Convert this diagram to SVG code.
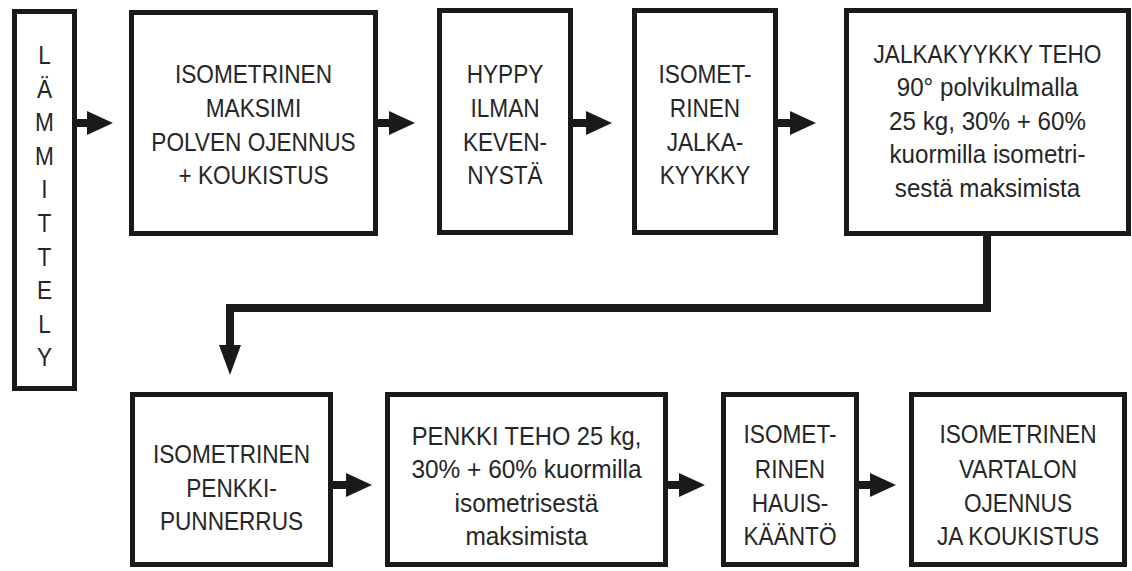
<svg xmlns="http://www.w3.org/2000/svg" width="1132" height="571" viewBox="0 0 1132 571">
<style>
.box{fill:#fff;stroke:#1a1a1a;stroke-width:5}
.t{font-family:"Liberation Sans",Arial,sans-serif;font-size:26px;fill:#262626;text-anchor:middle}
.c{fill:none;stroke:#1a1a1a;stroke-width:8}
</style>
<defs>
<marker id="ah" markerUnits="userSpaceOnUse" markerWidth="26" markerHeight="24" viewBox="0 0 26 24" refX="0" refY="12" orient="auto" overflow="visible">
<path d="M0,0 L26,12 L0,24 Z" fill="#1a1a1a"/>
</marker>
<marker id="ad" markerUnits="userSpaceOnUse" markerWidth="30" markerHeight="22" viewBox="0 0 30 22" refX="0" refY="11" orient="auto" overflow="visible">
<path d="M0,0 L30,11 L0,22 Z" fill="#1a1a1a"/>
</marker>
</defs>
<rect width="1132" height="571" fill="#fff"/>
<g id="connectors">
<line class="c" x1="77" y1="123" x2="87" y2="123" marker-end="url(#ah)"/>
<line class="c" x1="378" y1="123" x2="389" y2="123" marker-end="url(#ah)"/>
<line class="c" x1="573" y1="123" x2="586" y2="123" marker-end="url(#ah)"/>
<line class="c" x1="778" y1="123" x2="790" y2="123" marker-end="url(#ah)"/>
<polyline class="c" stroke-width="7" points="987,236 987,308 230,308 230,345" marker-end="url(#ad)"/>
<line class="c" x1="333" y1="485" x2="346" y2="485" marker-end="url(#ah)"/>
<line class="c" x1="668" y1="485" x2="679" y2="485" marker-end="url(#ah)"/>
<line class="c" x1="859" y1="485" x2="870" y2="485" marker-end="url(#ah)"/>
</g>
<g id="lammittely">
<rect class="box" x="14.5" y="11.5" width="60" height="377"/>
<text class="t" transform="translate(44.5,0) scale(0.87,1)"><tspan x="0" y="64">L</tspan><tspan x="0" y="97.6">Ä</tspan><tspan x="0" y="131.2">M</tspan><tspan x="0" y="164.8">M</tspan><tspan x="0" y="198.4">I</tspan><tspan x="0" y="232">T</tspan><tspan x="0" y="265.6">T</tspan><tspan x="0" y="299.2">E</tspan><tspan x="0" y="332.8">L</tspan><tspan x="0" y="366.4">Y</tspan></text>
</g>
<g id="n1">
<rect class="box" x="131.5" y="12.5" width="244" height="221"/>
<text class="t" transform="translate(253.5,0) scale(0.87,1)"><tspan x="0" y="83">ISOMETRINEN</tspan><tspan x="0" y="117">MAKSIMI</tspan><tspan x="0" y="151">POLVEN OJENNUS</tspan><tspan x="0" y="184">+ KOUKISTUS</tspan></text>
</g>
<g id="n2">
<rect class="box" x="439.5" y="10.5" width="131" height="222"/>
<text class="t" transform="translate(505,0) scale(0.87,1)"><tspan x="0" y="83">HYPPY</tspan><tspan x="0" y="117">ILMAN</tspan><tspan x="0" y="151">KEVEN-</tspan><tspan x="0" y="184">NYSTÄ</tspan></text>
</g>
<g id="n3">
<rect class="box" x="634.5" y="10.5" width="141" height="222"/>
<text class="t" transform="translate(705,0) scale(0.87,1)"><tspan x="0" y="83">ISOMET-</tspan><tspan x="0" y="117">RINEN</tspan><tspan x="0" y="151">JALKA-</tspan><tspan x="0" y="184">KYYKKY</tspan></text>
</g>
<g id="n4">
<rect class="box" x="846.5" y="10.5" width="282" height="223"/>
<text class="t" transform="translate(987.5,0) scale(0.87,1)"><tspan x="0" y="63">JALKAKYYKKY TEHO</tspan></text>
<text class="t" transform="translate(987.5,0) scale(0.93,1)"><tspan x="0" y="96.5">90° polvikulmalla</tspan><tspan x="0" y="130">25 kg, 30% + 60%</tspan><tspan x="0" y="163.5">kuormilla isometri-</tspan><tspan x="0" y="197">sestä maksimista</tspan></text>
</g>
<g id="n5">
<rect class="box" x="132.5" y="394.5" width="198" height="170"/>
<text class="t" transform="translate(231.5,0) scale(0.87,1)"><tspan x="0" y="463">ISOMETRINEN</tspan><tspan x="0" y="497">PENKKI-</tspan><tspan x="0" y="530">PUNNERRUS</tspan></text>
</g>
<g id="n6">
<rect class="box" x="387.5" y="394.5" width="278" height="170"/>
<text class="t" transform="translate(526.5,0) scale(0.91,1)"><tspan x="0" y="445">PENKKI TEHO 25 kg,</tspan></text>
<text class="t" transform="translate(526.5,0) scale(0.94,1)"><tspan x="0" y="478">30% + 60% kuormilla</tspan><tspan x="0" y="512">isometrisestä</tspan><tspan x="0" y="545">maksimista</tspan></text>
</g>
<g id="n7">
<rect class="box" x="723.5" y="394.5" width="133" height="170"/>
<text class="t" transform="translate(790,0) scale(0.87,1)"><tspan x="0" y="443">ISOMET-</tspan><tspan x="0" y="478">RINEN</tspan><tspan x="0" y="512">HAUIS-</tspan><tspan x="0" y="545">KÄÄNTÖ</tspan></text>
</g>
<g id="n8">
<rect class="box" x="911.5" y="394.5" width="213" height="170"/>
<text class="t" transform="translate(1018,0) scale(0.87,1)"><tspan x="0" y="443">ISOMETRINEN</tspan><tspan x="0" y="478">VARTALON</tspan><tspan x="0" y="512">OJENNUS</tspan><tspan x="0" y="545">JA KOUKISTUS</tspan></text>
</g>
</svg>
